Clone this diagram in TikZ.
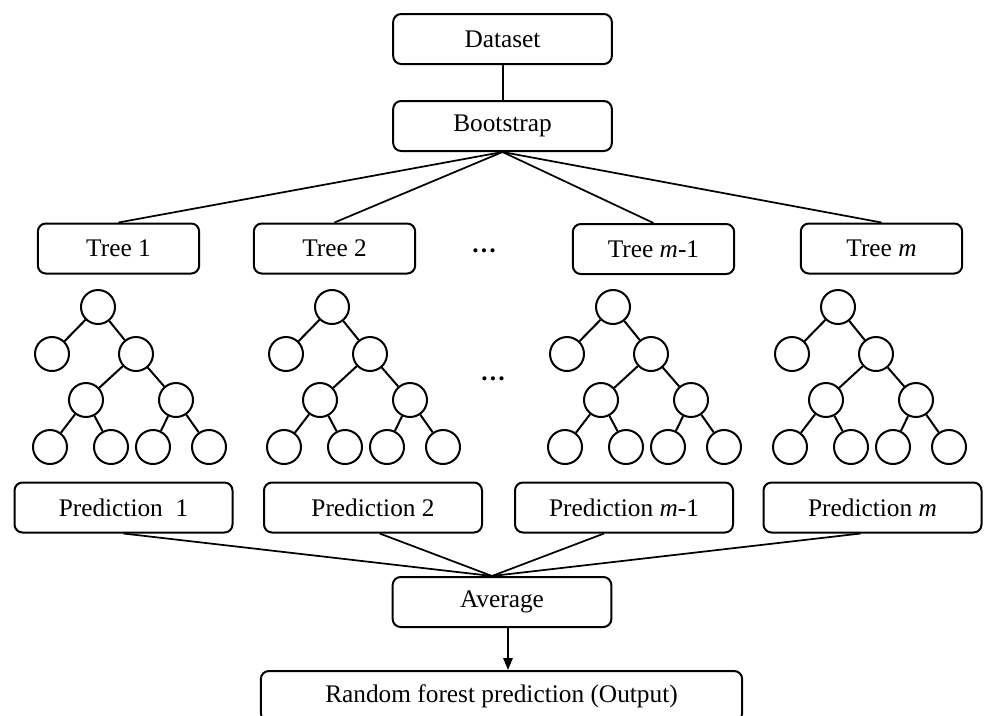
\documentclass[tikz,border=0pt]{standalone}
\usepackage{fontspec}
\setmainfont{Liberation Serif}
\usetikzlibrary{arrows.meta}
\begin{document}
\begin{tikzpicture}[x=0.75pt,y=-0.75pt,
  every node/.style={font=\fontsize{19}{22}\selectfont},
  box/.style={draw,rounded corners=6pt,line width=1.5pt,inner sep=0pt,minimum height=37.5pt},
  widebox/.style={box,minimum width=164pt},
  treebox/.style={box,minimum width=121pt},
  predbox/.style={box,minimum width=163.5pt},
  outbox/.style={box,minimum width=361pt},
  leaf/.style={draw,circle,line width=1.5pt,inner sep=0pt,minimum size=25.5pt},
  link/.style={line width=1.5pt},
  thin link/.style={line width=1.3pt}]
\useasboundingbox (0,0) rectangle (984,715);

% top of the flow
\node[widebox] (data) at (502.5,39) {Dataset};
\node[widebox] (boot) at (502.5,126) {Bootstrap};
\draw[link] (data) -- (boot);

% individual trees
\node[treebox] (tree1) at (118.5,248.5) {Tree 1};
\node[treebox] (tree2) at (334.5,248.5) {Tree 2};
\node[treebox] (tree3) at (653.5,249) {Tree \textit{m}-1};
\node[treebox] (tree4) at (881.5,248.5) {Tree \textit{m}};
\foreach \k in {1,...,4}
  \draw[thin link] (boot.south) -- (tree\k.north);

\node[inner sep=0pt] (dotsA) at (484,251) {\bfseries …};
\node[inner sep=0pt] (dotsB) at (493,379) {\bfseries …};

% binary tree sketches under each tree box
\foreach \k/\rx in {1/98, 2/332, 3/613, 4/838} {
  \node[leaf] (r\k) at (\rx,307) {};
  \node[leaf] (a\k) at (\rx-46,354) {};
  \node[leaf] (b\k) at (\rx+38,354) {};
  \node[leaf] (c\k) at (\rx-12,400) {};
  \node[leaf] (d\k) at (\rx+78,400) {};
  \node[leaf] (e\k) at (\rx-48,447) {};
  \node[leaf] (f\k) at (\rx+13,447) {};
  \node[leaf] (g\k) at (\rx+55,447) {};
  \node[leaf] (h\k) at (\rx+111,447) {};
  \draw[link] (r\k) -- (a\k);
  \draw[link] (r\k) -- (b\k);
  \draw[link] (b\k) -- (c\k);
  \draw[link] (b\k) -- (d\k);
  \draw[link] (c\k) -- (e\k);
  \draw[link] (c\k) -- (f\k);
  \draw[link] (d\k) -- (g\k);
  \draw[link] (d\k) -- (h\k);
}

% predictions
\node[predbox] (pred1) at (123.5,507.5) {Prediction\ \ 1};
\node[predbox] (pred2) at (373,507.5) {Prediction 2};
\node[predbox] (pred3) at (624,507.5) {Prediction \textit{m}-1};
\node[predbox] (pred4) at (872.5,507.5) {Prediction \textit{m}};

% aggregation
\node[widebox] (avg) at (502,602) {Average};
\coordinate (join) at ([xshift=-7.5pt]avg.north);
\draw[thin link] (pred1.south) -- (join);
\draw[thin link] ([xshift=5pt]pred2.south) -- (join);
\draw[thin link] ([xshift=-15pt]pred3.south) -- (join);
\draw[thin link] ([xshift=-9pt]pred4.south) -- (join);

\node[outbox] (out) at (501.5,696) {Random forest prediction (Output)};
\draw[link,-{Triangle[length=9pt,width=7pt]}] ([xshift=4.5pt]avg.south) -- ([xshift=4.5pt]avg.south |- out.north);
\end{tikzpicture}
\end{document}
